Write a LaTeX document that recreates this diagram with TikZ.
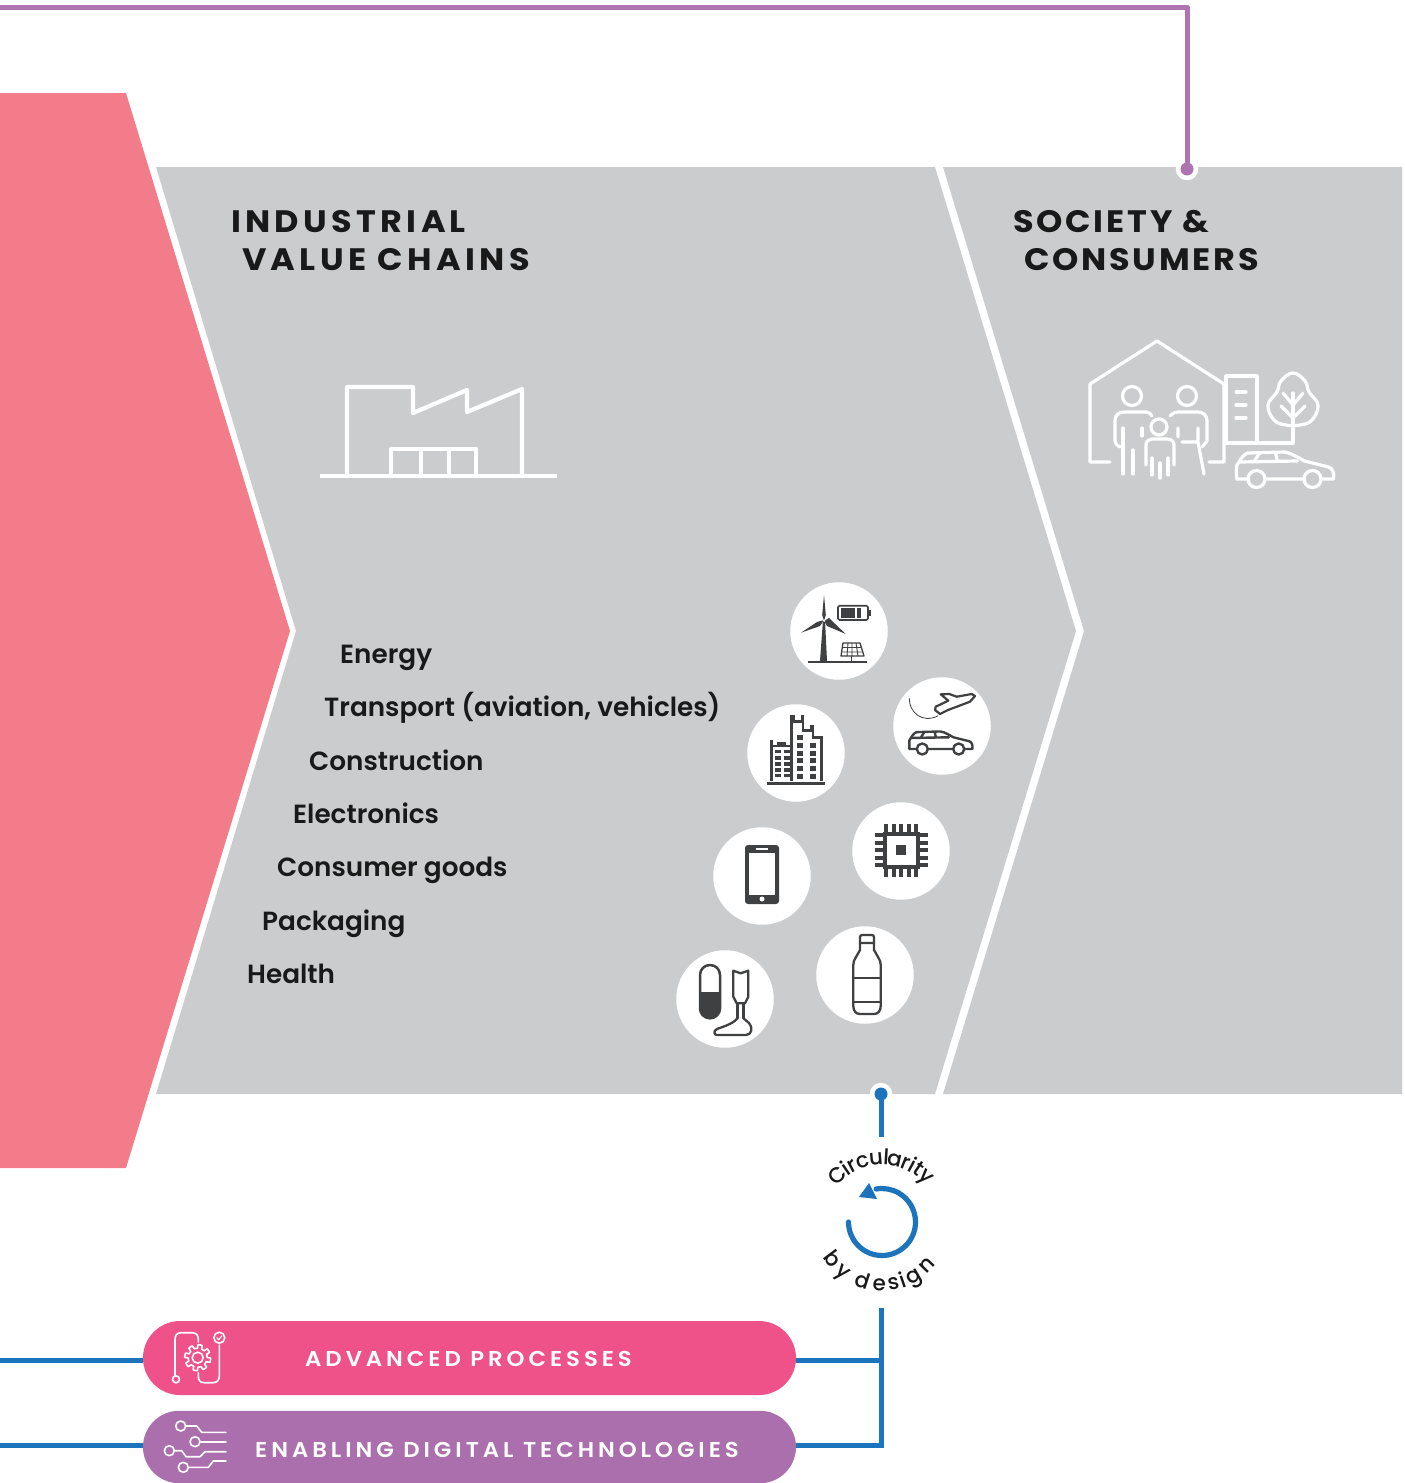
\documentclass[tikz,border=0pt]{standalone}
\usepackage{fontspec}
\setmainfont{Poppins Medium}
\newfontfamily\fitem{Poppins SemiBold}
\newfontfamily\ftitle[LetterSpace=14,FakeStretch=1.08]{Poppins Bold}
\newfontfamily\ftitleb[LetterSpace=9,FakeStretch=1.08]{Poppins Bold}
\newfontfamily\fpill[LetterSpace=18.5,FakeStretch=1.06]{Poppins SemiBold}
\newfontfamily\fcirc{Poppins Medium}
\usetikzlibrary{shapes.misc,calc}
\definecolor{grayband}{HTML}{CBCCCE}
\definecolor{salmon}{HTML}{F37C8A}
\definecolor{pinkpill}{HTML}{EF5289}
\definecolor{purplepill}{HTML}{AB6FAD}
\definecolor{purpleline}{HTML}{AE73B0}
\definecolor{blueline}{HTML}{1C75BC}
\definecolor{ink}{HTML}{3F4042}
\tikzset{
  whiteicon/.style={draw=white,line width=4.2pt,line join=round,line cap=round},
  thinicon/.style={draw=white,line width=3.2pt,line join=round,line cap=round},
  pillicon/.style={draw=white,line width=1.6pt,line join=round,line cap=round},
  darkicon/.style={draw=ink,line width=2.3pt,line join=round,line cap=round},
  disc/.style={circle,fill=white,minimum size=97.5pt,inner sep=0pt},
  halo/.style={circle,fill=white,minimum size=22.5pt,inner sep=0pt},
  purpledot/.style={circle,fill=purpleline,minimum size=13pt,inner sep=0pt},
  bluedot/.style={circle,fill=blueline,minimum size=13pt,inner sep=0pt},
  purplewire/.style={draw=purpleline,line width=5pt},
  bluewire/.style={draw=blueline,line width=5pt},
  pill/.style={rounded rectangle,minimum width=653pt,inner sep=0pt,draw=none},
  title/.style={anchor=base west,inner sep=0pt,font=\ftitle\fontsize{31}{31}\selectfont,text=black!90},
  titleb/.style={anchor=base west,inner sep=0pt,font=\ftitleb\fontsize{31}{31}\selectfont,text=black!90},
  item/.style={anchor=base west,inner sep=0pt,font=\fitem\fontsize{26.3}{27}\selectfont,text=black!90},
  pilltext/.style={anchor=base,inner sep=0pt,text=white,font=\fpill\fontsize{21.5}{22}\selectfont},
  circ/.style={anchor=base,inner sep=0pt,font=\fcirc\fontsize{21.5}{21.5}\selectfont,text=black!90},
  carshape/.pic={
    \path[pic actions] (11,28) -- (0,28) -- (0,15) .. controls (3,10) and (6,4) .. (11,2)
      -- (48,1) .. controls (55,2) and (62,7) .. (68,10) -- (92,16)
      .. controls (96,17) and (98,22) .. (97,28) -- (85,28)
      (67,28) -- (29,28);
    \path[pic actions] (20,28) circle (8.5) (76,28) circle (8.5);
    \path[pic actions] (3,11) -- (61,10) (18,10) -- (23,2) (41,10) -- (39,2);
  }
}
\begin{document}
\begin{tikzpicture}[x=1pt,y=-1pt]
\useasboundingbox (0,0) rectangle (1405,1483);
\fill[white] (0,0) rectangle (1405,1483);
% bands
\fill[salmon] (0,93) -- (126,93) -- (290,631) -- (126,1168) -- (0,1168) -- cycle;
\fill[grayband] (156,167) -- (935,167) -- (1076,631) -- (935,1094) -- (156,1094) -- (296,631) -- cycle;
\fill[grayband] (943,167) -- (1402,167) -- (1402,1094) -- (943,1094) -- (1084,631) -- cycle;
% connectors
\node[halo] (phalo) at (1187,169) {};
\node[halo] (bhalo) at (881,1094) {};
\node[purpledot] (pdot) at (1187,169) {};
\node[bluedot] (bdot) at (881,1094) {};
\coordinate (pstart) at (0,7);
\draw[purplewire,line join=round] (pstart) -| (pdot.center);
\coordinate (bstub) at (881,1137);
\draw[bluewire] (bdot.center) -- (bstub);
% titles
\node[title] (t1) at (231,232) {INDUSTRIAL};
\node[title] (t2) at (242,270) {VALUE CHAINS};
\node[titleb] (t3) at (1013,232) {SOCIETY \&};
\node[titleb] (t4) at (1024,270) {CONSUMERS};
% factory
\draw[whiteicon] (347,476) -- (347,387) -- (413,387) -- (413,413) -- (467,390) -- (467,412) -- (522,389) -- (522,476);
\draw[whiteicon,line cap=butt] (320,476) -- (557,476);
\draw[whiteicon] (391,476) -- (391,449) -- (476,449) -- (476,476) (421,449) -- (421,476) (449,449) -- (449,476);
% society
\begin{scope}[thinicon]
\draw (1110,462) -- (1090,462) -- (1090,384) -- (1157,341) -- (1224,384) -- (1224,462) -- (1209,462);
\draw (1226,376) -- (1257,376) -- (1257,443) -- (1226,443) -- cycle;
\draw (1236,392) -- (1246,392) (1236,405) -- (1246,405) (1236,418) -- (1246,418);
\draw (1257,443) -- (1293,443) -- (1293,393);
\draw plot[smooth cycle,tension=.7] coordinates {(1293,373) (1281,381) (1277,392) (1268,405) (1274,420) (1286,425) (1300,425) (1312,420) (1318,405) (1309,392) (1305,381)};
\draw (1283,393) -- (1293,405) -- (1303,393) (1281,406) -- (1293,418) -- (1305,406);
\draw (1132,396) circle (9.5) (1187,396) circle (9.5) (1159,427) circle (8);
\draw (1120,447) .. controls (1117,445) and (1115,444) .. (1115,441) -- (1115,421) .. controls (1115,414) and (1120,412) .. (1124,412) -- (1146,412) .. controls (1149,412) and (1151,414) .. (1152,416);
\draw (1123,428) -- (1123,474) (1133,450) -- (1133,474) (1142,428) -- (1142,436);
\draw (1170,416) .. controls (1173,413) and (1175,412) .. (1178,412) -- (1198,412) .. controls (1203,412) and (1207,415) .. (1207,421) -- (1207,441) -- (1202,447);
\draw (1178,428) -- (1178,437) (1198,428) -- (1198,442) (1182,442) -- (1198,442) -- (1204,474);
\draw (1146,465) -- (1146,445) .. controls (1146,441) and (1149,439) .. (1152,439) -- (1167,439) .. controls (1171,439) and (1174,441) .. (1174,445) -- (1174,465);
\draw (1152,458) -- (1152,475) (1160,463) -- (1160,478) (1168,458) -- (1168,475);
\pic[thinicon] at (1236.5,451) {carshape};
\end{scope}
% discs
\node[disc] (d1) at (839,631) {};
\node[disc] (d2) at (942,726) {};
\node[disc] (d3) at (796,753) {};
\node[disc] (d4) at (901,851) {};
\node[disc] (d5) at (762,876) {};
\node[disc] (d6) at (865,975) {};
\node[disc] (d7) at (725,999) {};
% list
\node[item] (i1) at (340,663) {Energy};
\node[item] (i2) at (324,716) {Transport (aviation, vehicles)};
\node[item] (i3) at (309,770) {Construction};
\node[item] (i4) at (293,823) {Electronics};
\node[item] (i5) at (277,876) {Consumer goods};
\node[item] (i6) at (262,930) {Packaging};
\node[item] (i7) at (247,983) {Health};
% energy icon
\fill[ink] (820,661) -- (827,661) -- (825,620) -- (823,620) -- cycle;
\fill[ink] (824,621) -- (822.2,615) -- (824,595) -- (825.8,615) -- cycle;
\fill[ink] (824,620) -- (817,622) -- (801,632.7) -- (820,626) -- cycle;
\fill[ink] (824,621) -- (829,618) -- (845.7,634) -- (827,626) -- cycle;
\fill[white] (824,620.7) circle (1.3);
\draw[ink,line width=1.8pt] (808,661.7) -- (867,661.7);
\draw[ink,line width=1.6pt,rounded corners=1.5pt] (838,605.7) rectangle (868,620);
\fill[ink] (868,610) rectangle (871,616);
\fill[ink] (841,608) rectangle (855,618);
\fill[ink] (857,608) rectangle (861,618);
\draw[ink,line width=1.3pt,line join=round] (843,643) -- (860,643) -- (864,656) -- (841,656) -- cycle;
\draw[ink,line width=.9pt] (842,647.5) -- (861,647.5) (841.5,652) -- (862.5,652) (848,643) -- (847,656) (852,643) -- (852,656) (856,643) -- (858,656);
\draw[ink,line width=1.2pt] (851.7,656) -- (851.7,661);
% plane and car
\draw[darkicon,line width=2.2pt] (975,696) -- (971.7,694) -- (956.7,696.7) -- (949.3,694) -- (940.7,694.3) -- (948.3,700.7) -- (935.7,706.7) -- (935,710) -- (940,714) -- (948,710) -- (970,701.7) -- cycle;
\draw[ink,line width=.8pt] (909.3,698.3) .. controls (909,712) and (922,724) .. (938.3,715.7);
\pic[darkicon,line width=2.4pt,scale=.65] at (909.3,730.8) {carshape};
% buildings
\draw[ink,line width=3pt] (767.3,783.3) -- (825,783.3);
\begin{scope}[x=.3333pt,y=-.3333pt,shift={(2220,1710)}]
\draw[ink,line width=2.4pt,line join=miter] (95,632) -- (95,510) (95,528) -- (155,528) (155,632) -- (155,440) -- (162,440) -- (162,455) -- (186,455) -- (186,440) -- (190,440) -- (190,482) -- (215,482) -- (215,470) -- (220,470) -- (220,503) -- (245,503) -- (245,632);
\fill[ink] (110,516) rectangle (138,528);
\foreach \y in {540,559,577,595,612} {\fill[ink] (105,\y) rectangle (123,\y+10); \fill[ink] (132,\y) rectangle (150,\y+10);}
\fill[ink] (170,495) rectangle (188,510);
\foreach \y in {520,543,565,588,612} {\fill[ink] (170,\y) rectangle (188,\y+15); \fill[ink] (210,\y) rectangle (228,\y+15);}
\end{scope}
% chip
\foreach \o in {-15,-7.5,0,7.5,15} {
  \fill[ink] (901.3+\o-1.9,824) rectangle (901.3+\o+1.9,877);
  \fill[ink] (875,850.3+\o-1.9) rectangle (927.5,850.3+\o+1.9);
}
\fill[ink] (882.7,831.7) rectangle (920,869);
\fill[white] (886.7,835.7) rectangle (916,865);
\fill[ink] (896,845) rectangle (906,855);
% phone
\fill[ink,rounded corners=3pt] (745,845) rectangle (779,904);
\fill[white] (749,852.7) rectangle (775.3,895);
\draw[white,line width=1.2pt] (756,849) -- (768,849);
\fill[white] (762,899) circle (2.5);
% bottle
\draw[darkicon] (860,943) -- (860,937) .. controls (860,936) and (861,935) .. (862,935) -- (872,935) .. controls (873,935) and (874,936) .. (874,937) -- (874,943) -- cycle;
\draw[darkicon] (860,943) -- (860,950) -- (856,957) .. controls (854,960) and (853.3,962) .. (853.3,965) -- (853.3,1006) .. controls (853.3,1011) and (856,1014) .. (860,1014) -- (874,1014) .. controls (878,1014) and (880.7,1011) .. (880.7,1006) -- (880.7,965) .. controls (880.7,962) and (880,960) .. (878,957) -- (874,950) -- (874,943);
\draw[darkicon,line width=1.8pt] (853.3,978) -- (880.7,978) (853.3,1001.7) -- (880.7,1001.7);
% health
\fill[ink] (700,992) -- (720,992) -- (720,1008) arc (0:180:10) -- cycle;
\draw[darkicon,line width=2.5pt,rounded corners=9.9pt] (700,965) rectangle (720,1018.3);
\draw[darkicon] (733.3,970.7) -- (740.7,973.3) -- (748.3,970.7) -- (748.3,996.7) -- (745,1003.3) -- (736.7,1003.3) -- (733.3,996.7) -- cycle;
\draw[darkicon] (737.5,1003.3) -- (737.5,1018.3) (743.5,1003.3) -- (743.5,1018.3);
\draw[darkicon] (737.5,1018.3) .. controls (733,1024) and (722,1027) .. (717,1029) .. controls (713,1031) and (714,1035) .. (717,1035) -- (746,1035) .. controls (752,1035) and (753,1027) .. (749,1023) .. controls (747,1021) and (745,1020) .. (743.5,1018.3);
% circularity label
\begin{scope}[shift={(882,1222)}]
\foreach \t/\c [count=\n] in {-44/C,-34.2/i,-27.7/r,-17.9/c,-5.4/u,3.8/l,12.2/a,21.8/r,28.3/i,34.7/t,44/y}
  \node[circ,rotate=-\t] (ca\n) at (\t-90:57) {\c};
\foreach \t/\c [count=\n] in {-53/b,-38.5/y,-17.8/d,-2.6/e,10.4/s,19.3/i,30.3/g,46/n}
  \node[circ,rotate=\t] (cb\n) at (90-\t:69) {\c};
\draw[draw=blueline,line width=5.2pt,line cap=round] (180:33.5) arc (180:-100:33.5);
\fill[blueline] (-13,-39) -- (-23,-25) -- (-5,-23) -- cycle;
\end{scope}
% pills and wires
\node[pill,fill=pinkpill,minimum height=74pt] (p1) at (469.5,1358) {};
\node[pill,fill=purplepill,minimum height=72.5pt] (p2) at (469.5,1447) {};
\coordinate (bjoin1) at (881,1360);
\coordinate (bjoin2) at (881,1445);
\coordinate (btop) at (881,1308);
\coordinate (l1) at (0,1360);
\coordinate (l2) at (0,1445);
\draw[bluewire] (bjoin1) -- (bjoin1 -| p1.east);
\draw[bluewire] (btop) |- (bjoin2 -| p2.east);
\draw[bluewire] (l1) -- (l1 -| p1.west);
\draw[bluewire] (l2) -- (l2 -| p2.west);
\node[pilltext] (pt1) at (468.5,1366) {ADVANCED PROCESSES};
\node[pilltext] (pt2) at (497,1457) {ENABLING DIGITAL TECHNOLOGIES};
% gear icon
\draw[pillicon] plot[samples=289,domain=0:360] ({197.7+(11.2+1.8*max(min(4*sin(8*\x),1),-1))*cos(\x)},{1357.7+(11.2+1.8*max(min(4*sin(8*\x),1),-1))*sin(\x)}) -- cycle;
\draw[pillicon] (197.7,1357.7) circle (5.5);
\draw[pillicon] (176,1379.3) circle (3.5);
\draw[pillicon] (175,1375.5) -- (175,1340) .. controls (175,1335) and (177,1332.7) .. (181,1332.7) -- (192,1332.7) .. controls (196,1332.7) and (198.3,1335) .. (198.3,1339) -- (198.3,1342);
\draw[pillicon] (198.3,1372.7) -- (198.3,1376) .. controls (198.3,1380) and (200,1382.7) .. (204,1382.7) -- (213,1382.7) .. controls (217,1382.7) and (219.3,1380) .. (219.3,1376) -- (219.3,1345);
\draw[pillicon] (219.3,1337.7) circle (5.5);
\draw[pillicon,line width=1.1pt] (216.8,1337.7) -- (218.7,1339.8) -- (222,1335.7);
% circuit icon
\draw[pillicon] (180.7,1426) circle (5) (195,1441.7) circle (5) (169.3,1450.7) circle (5) (183.3,1467.3) circle (5);
\draw[pillicon] (186,1426) -- (196.7,1426) -- (201.7,1432.3) -- (226,1432.3);
\draw[pillicon] (200.7,1441.7) -- (226,1441.7);
\draw[pillicon] (175,1450.7) -- (181.7,1450.7) -- (186,1456.7) -- (200,1456.7) -- (205,1451.7) -- (226,1451.7);
\draw[pillicon] (189,1467.3) -- (208.3,1467.3) -- (213.3,1461) -- (226,1461);
\end{tikzpicture}
\end{document}
